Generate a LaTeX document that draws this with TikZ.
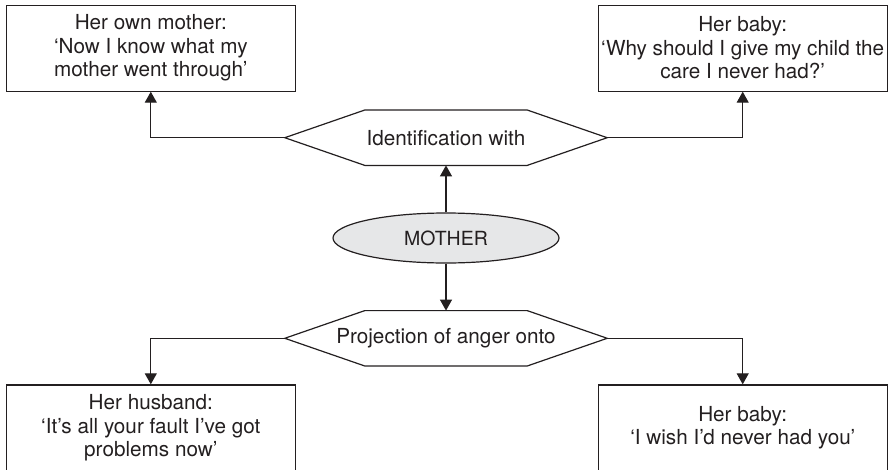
\documentclass[tikz,border=0pt]{standalone}
\usepackage{fontspec}
\setmainfont{TeX Gyre Heros}
\usepackage{tikz}
\usetikzlibrary{arrows.meta,positioning,shapes.geometric}
\definecolor{ink}{HTML}{231F20}
\definecolor{ovalgray}{HTML}{E6E7E8}

% hexagonal outline round a plain node
\newcommand{\hexoutline}[1]{%
  \draw[ink, line width=1.2pt] (#1.west) -- ([xshift=80pt]#1.north west)
    -- ([xshift=-80pt]#1.north east) -- (#1.east)
    -- ([xshift=-80pt]#1.south east) -- ([xshift=80pt]#1.south west) -- cycle;}

\begin{document}
\begin{tikzpicture}[
    x=1pt, y=-1pt,
    node distance=47pt and 0pt,
    quote/.style={draw=ink, line width=1.2pt, text=ink, minimum width=289pt, minimum height=86pt, inner sep=2pt, align=center, font=\fontsize{20.7}{23.5}\selectfont},
    hexa/.style={minimum width=322pt, minimum height=55pt, inner sep=0pt, text=ink, font=\fontsize{20.7}{23.5}\selectfont},
    self/.style={ellipse, draw=ink, fill=ovalgray, line width=1.2pt, minimum width=226pt, minimum height=50pt, inner sep=0pt, text=ink, font=\fontsize{19.5}{22}\selectfont},
    arr/.style={-{Triangle[length=11pt,width=12pt]}, draw=ink, line width=1.2pt}
]
\useasboundingbox (0,0) rectangle (889,469);
\clip (0,0) rectangle (889,469);

% --- Centre column ---
\node[self] (mother) at (446,238) {MOTHER};
\node[hexa, above=47pt of mother] (ident) {Identification with};
\node[hexa, below=47pt of mother] (proj) {Projection of anger onto};
\hexoutline{ident}
\hexoutline{proj}

% --- Identification ---
\node[quote, above=46pt of ident.west, xshift=-134pt] (ownmum) {Her own mother:\\‘Now I know what my\\mother went through’};
\node[quote, above=46pt of ident.east, xshift=135.5pt] (ownbaby) {Her baby:\\‘Why should I give my child the\\care I never had?’};

% --- Projection ---
\node[quote, below=46pt of proj.west, xshift=-134pt] (husband) {Her husband:\\‘It’s all your fault I’ve got\\problems now’};
\node[quote, below=46pt of proj.east, xshift=135.5pt] (angrybaby) {Her baby:\\‘I wish I’d never had you’};

\draw[arr] (mother) -- (ident);
\draw[arr] (mother) -- (proj);
\draw[arr] (ident.west) -| (ownmum.south);
\draw[arr] (ident.east) -| (ownbaby.south);
\draw[arr] (proj.west) -| (husband.north);
\draw[arr] (proj.east) -| (angrybaby.north);
\end{tikzpicture}
\end{document}
